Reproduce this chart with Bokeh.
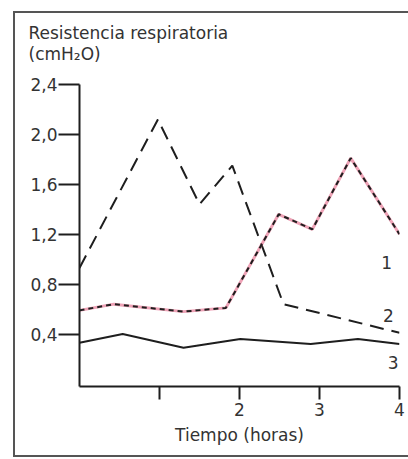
from bokeh.plotting import figure
from bokeh.models import FixedTicker, CustomJSTickFormatter, Label, Range1d, Title
from bokeh.embed import file_html
from bokeh.resources import INLINE

# ---- data ----
hours_1 = [0.0, 0.98, 1.50, 1.91, 2.55, 4.00]
resist_1 = [0.93, 2.12, 1.44, 1.75, 0.64, 0.41]

hours_2 = [0.0, 0.43, 1.30, 1.83, 2.49, 2.91, 3.39, 4.00]
resist_2 = [0.59, 0.64, 0.58, 0.61, 1.36, 1.24, 1.81, 1.20]

hours_3 = [0.0, 0.54, 1.30, 2.01, 2.89, 3.48, 4.00]
resist_3 = [0.33, 0.40, 0.29, 0.36, 0.32, 0.36, 0.32]

series_names = ["1", "2", "3"]
series_label_x = [3.84, 3.86, 3.92]
series_label_y = [0.97, 0.55, 0.17]

x_ticks = [1, 2, 3, 4]
y_ticks = [0.4, 0.8, 1.2, 1.6, 2.0, 2.4]
y_title = ["Resistencia respiratoria", "(cmH\u2082O)"]
x_title = "Tiempo (horas)"

FONT = "DejaVu Sans"
TXT = "#333333"
INK = "#1e1e1e"

p = figure(width=408, height=459, output_backend="svg", toolbar_location=None,
           x_range=Range1d(0, 4), y_range=Range1d(-0.02, 2.4),
           min_border_left=79, min_border_right=9, min_border_top=83, min_border_bottom=73)
p.background_fill_color = None
p.border_fill_color = None
p.outline_line_color = None
p.grid.visible = False
p.title.visible = False

# outer frame of the figure (left, top, bottom), drawn as css lines
g = "linear-gradient(#555,#555)"
p.styles = {
    "background": f"{g} 13px 11px / 2px 446px no-repeat, "
                  f"{g} 13px 11px / 420px 2px no-repeat, "
                  f"{g} 13px 455px / 420px 2px no-repeat, white"
}

for ax in (p.xaxis[0], p.yaxis[0]):
    ax.axis_line_color = INK
    ax.axis_line_width = 2
    ax.major_tick_line_color = INK
    ax.major_tick_line_width = 2
    ax.major_tick_in = 0
    ax.minor_tick_line_color = None
    ax.major_label_text_font = FONT
    ax.major_label_text_font_size = "17px"
    ax.major_label_text_color = TXT

p.xaxis.ticker = FixedTicker(ticks=x_ticks)
p.xaxis.formatter = CustomJSTickFormatter(code="return tick == 1 ? '' : tick.toFixed(0);")
p.xaxis.major_tick_out = 13
p.xaxis.major_label_standoff = 3
p.xaxis.axis_label = x_title
p.xaxis.axis_label_text_font = FONT
p.xaxis.axis_label_text_font_size = "17px"
p.xaxis.axis_label_text_font_style = "normal"
p.xaxis.axis_label_text_color = TXT
p.xaxis.axis_label_standoff = 6

p.yaxis.ticker = FixedTicker(ticks=y_ticks)
p.yaxis.formatter = CustomJSTickFormatter(code="return tick.toFixed(1).replace('.', ',');")
p.yaxis.major_tick_out = 21
p.yaxis.major_label_standoff = 1

# series 1: long dashes
p.line(hours_1, resist_1, line_color=INK, line_width=2, line_dash="14 8")
# series 2: red line under short black dashes
p.line(hours_2, resist_2, line_color="#e0557a", line_width=3, line_alpha=0.55)
p.line(hours_2, resist_2, line_color=INK, line_width=2, line_dash="5 4")
# series 3: solid
p.line(hours_3, resist_3, line_color=INK, line_width=2)

for name, lx, ly in zip(series_names, series_label_x, series_label_y):
    p.add_layout(Label(x=lx, y=ly, text=name, text_align="center", text_baseline="middle",
                       text_font=FONT, text_font_size="17px", text_color=TXT))

# y-axis title: two lines at the top left
p.add_layout(Title(text="\n".join(y_title), align="left", offset=-51, standoff=41,
                   text_font=FONT, text_font_size="17px", text_font_style="normal",
                   text_line_height=1.06, text_color=TXT), "above")

open("out.html", "w").write(file_html(p, INLINE))
